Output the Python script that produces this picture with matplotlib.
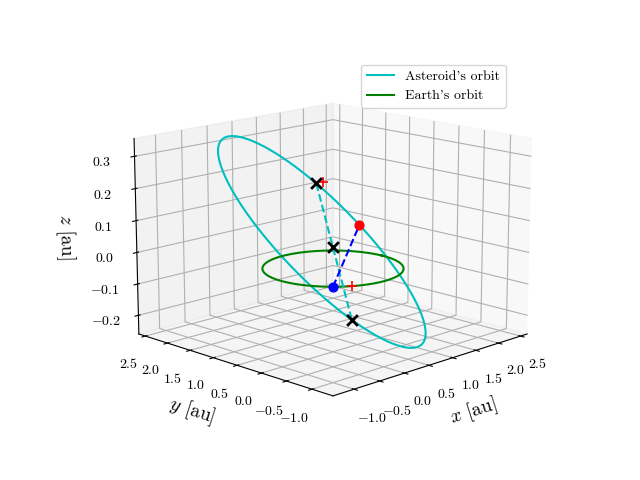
import numpy as np
import matplotlib
matplotlib.use("Agg")
import matplotlib.pyplot as plt

plt.rcParams.update({"font.family": "serif", "font.serif": ["cmr10"],
                     "mathtext.fontset": "cm", "axes.formatter.use_mathtext": True})

# asteroid orbital elements
a_ast = 1.62
e_ast = 0.36
inc_deg = 11.0
node_deg = 30.0
argp_deg = 210.0
nu_ast_deg = 154.0            # asteroid's current true anomaly
nu_marks_deg = [172.0, 0.0]   # two marked orbit points (joined by dashed line)
earth_lon_deg = 225.0         # Earth's current longitude
centre_mark = [0.0, 0.0, 0.065]
red_plus = [[1.45, 1.66, 0.16], [-0.5, -0.87, 0.0]]

def orbit_pos(nu):
    i, O, w = np.radians([inc_deg, node_deg, argp_deg])
    r = a_ast * (1 - e_ast**2) / (1 + e_ast * np.cos(nu))
    u = w + nu
    x = r * (np.cos(O) * np.cos(u) - np.sin(O) * np.sin(u) * np.cos(i))
    y = r * (np.sin(O) * np.cos(u) + np.cos(O) * np.sin(u) * np.cos(i))
    z = r * np.sin(u) * np.sin(i)
    return x, y, z

fig = plt.figure(figsize=(6.4, 4.8), dpi=100)
ax = fig.add_subplot(projection="3d")
nu = np.linspace(0, 2 * np.pi, 400)
ax.plot(*orbit_pos(nu), color="c", label="Asteroid's orbit")
th = np.linspace(0, 2 * np.pi, 400)
ax.plot(np.cos(th), np.sin(th), 0 * th, color="g", label="Earth's orbit")

m1 = np.array(orbit_pos(np.radians(nu_marks_deg[0])))
m2 = np.array(orbit_pos(np.radians(nu_marks_deg[1])))
ax.plot([m1[0], m2[0]], [m1[1], m2[1]], [m1[2], m2[2]], "c--")
ast = np.array(orbit_pos(np.radians(nu_ast_deg)))
el = np.radians(earth_lon_deg)
earth = np.array([np.cos(el), np.sin(el), 0.0])
ax.plot([earth[0], ast[0]], [earth[1], ast[1]], [earth[2], ast[2]], "b--")
ax.scatter(*ast, color="r", s=40, depthshade=False)
ax.scatter(*earth, color="b", s=40, depthshade=False)
for p in (m1, m2, np.array(centre_mark)):
    ax.scatter(*p, marker="x", color="k", s=60, linewidths=2, depthshade=False)
for p in red_plus:
    ax.scatter(*p, marker="+", color="r", s=60, linewidths=1.2, depthshade=False)

ax.set_xlim(-1.4, 2.65)
ax.set_ylim(-1.4, 2.65)
ax.set_zlim(-0.26, 0.355)
ax.set_xticks(np.arange(-1.0, 2.51, 0.5))
ax.set_yticks(np.arange(-1.0, 2.51, 0.5))
ax.set_zticks(np.arange(-0.2, 0.31, 0.1))
ax.set_xlabel("$x$ [au]", fontsize=14)
ax.set_ylabel("$y$ [au]", fontsize=14)
ax.set_zlabel("$z$ [au]", fontsize=14)
ax.view_init(elev=14, azim=-135)
ax.set_box_aspect((4, 4, 2.9), zoom=1.16)
ax.legend(loc="upper right")
fig.savefig("out.png", dpi=100)
